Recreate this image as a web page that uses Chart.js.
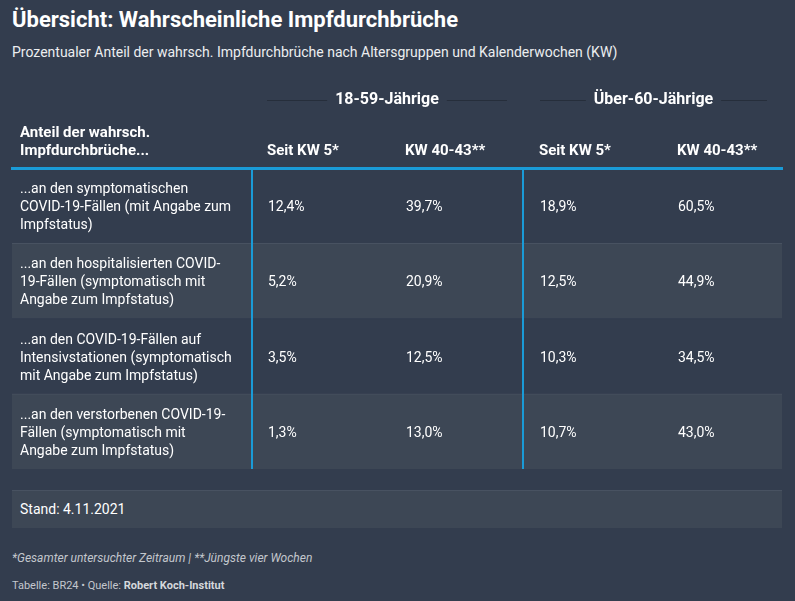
<!DOCTYPE html>
<html><head><meta charset="utf-8">
<script src="https://cdn.jsdelivr.net/npm/chart.js@4.4.0/dist/chart.umd.min.js"></script>
<style>
html,body{margin:0;padding:0;background:#333d4e;width:795px;height:601px;overflow:hidden;font-family:Roboto,sans-serif;color:#fff;}
.t{position:absolute;left:12px;white-space:nowrap;}
#title{top:7px;font-size:22px;line-height:26px;font-weight:700;}
#sub{top:43px;font-size:14px;line-height:18px;color:#eceef0;}
#wrap{position:absolute;left:0;top:75px;width:795px;height:400px;}
#stand{position:absolute;left:12px;top:490px;width:770px;height:38px;background:#3d4755;border-top:1px solid #485261;box-sizing:border-box;font-size:14px;line-height:37px;padding-left:8px;}
#note{top:550px;font-size:12px;line-height:16px;font-style:italic;color:#c3c7cd;}
#src{top:579px;font-size:11px;line-height:14px;color:#c3c7cd;}
#src b{font-weight:700;color:#d5d8dc;}
</style></head>
<body>
<div class="t" id="title">Übersicht: Wahrscheinliche Impfdurchbrüche</div>
<div class="t" id="sub">Prozentualer Anteil der wahrsch. Impfdurchbrüche nach Altersgruppen und Kalenderwochen (KW)</div>
<div id="wrap"><canvas id="c" width="795" height="400"></canvas></div>
<div id="stand"></div>
<div class="t" id="note">*Gesamter untersuchter Zeitraum | **Jüngste vier Wochen</div>
<div class="t" id="src">Tabelle: BR24 • Quelle: <b>Robert Koch-Institut</b></div>
<script>
// ---- data ----
const rowLabels = [
  ['...an den symptomatischen', 'COVID-19-Fällen (mit Angabe zum', 'Impfstatus)'],
  ['...an den hospitalisierten COVID-', '19-Fällen (symptomatisch mit', 'Angabe zum Impfstatus)'],
  ['...an den COVID-19-Fällen auf', 'Intensivstationen (symptomatisch', 'mit Angabe zum Impfstatus)'],
  ['...an den verstorbenen COVID-19-', 'Fällen (symptomatisch mit', 'Angabe zum Impfstatus)']
];
const firstColumnHeader = ['Anteil der wahrsch.', 'Impfdurchbrüche...'];
const ageGroups = ['18-59-Jährige', 'Über-60-Jährige'];
const periodLabels = ['Seit KW 5*', 'KW 40-43**', 'Seit KW 5*', 'KW 40-43**'];
const young_seitKW5 = [12.4, 5.2, 3.5, 1.3];
const young_kw4043 = [39.7, 20.9, 12.5, 13.0];
const old_seitKW5 = [18.9, 12.5, 10.3, 10.7];
const old_kw4043 = [60.5, 44.9, 34.5, 43.0];
const standDate = '4.11.2021';

// ---- layout (table width units) ----
const TABLE_W = 770;
const COL_TEXT = [8, 255, 393, 527, 665];
const DIVIDERS = [240, 511];
const GROUP_SPAN = [[255, 495], [528, 755]];
const BG = '#333d4e', ROW_ALT = '#3d4755', ROW_LINE = '#485261', BLUE = '#1a9bd7', RULE = '#262e3b';
const FONT = 'Roboto';
const GROUP_SIZE = 16, GROUP_PAD = 13;

document.getElementById('stand').textContent = 'Stand: ' + standDate;

const valueColumns = [young_seitKW5, young_kw4043, old_seitKW5, old_kw4043];
const fmt = v => v.toFixed(1).replace('.', ',') + '%';

function headerFor(v) {
  const i = COL_TEXT.indexOf(v);
  if (i === 0) return firstColumnHeader;
  if (i > 0) return periodLabels[i - 1];
  return '';
}

const cellText = {
  id: 'cellText',
  afterDatasetsDraw(chart) {
    const c = chart.ctx, xs = chart.scales.x, ys = chart.scales.y;
    c.save();
    c.font = '14px ' + FONT;
    c.fillStyle = '#ffffff';
    c.textAlign = 'left';
    c.textBaseline = 'middle';
    valueColumns.forEach((col, j) => {
      col.forEach((v, i) => {
        c.fillText(fmt(v), xs.getPixelForValue(COL_TEXT[j + 1]) + 1, ys.getPixelForValue(i) + 2);
      });
    });
    c.restore();
  }
};

const groupRules = {
  id: 'groupRules',
  afterDraw(chart) {
    const s = chart.scales.x2, c = chart.ctx;
    c.save();
    c.font = 'bold ' + GROUP_SIZE + 'px ' + FONT;
    c.strokeStyle = RULE;
    c.lineWidth = 1;
    const y = Math.round(s.bottom - GROUP_PAD - GROUP_SIZE * 1.2 / 2) + 0.5;
    GROUP_SPAN.forEach((g, i) => {
      const l = s.getPixelForValue(g[0]), r = s.getPixelForValue(g[1]);
      const cx = s.getPixelForValue((g[0] + g[1]) / 2);
      const w = c.measureText(ageGroups[i]).width;
      c.beginPath();
      c.moveTo(l, y); c.lineTo(cx - w / 2 - 8, y);
      c.moveTo(cx + w / 2 + 8, y); c.lineTo(r, y);
      c.stroke();
    });
    c.restore();
  }
};

new Chart(document.getElementById('c'), {
  type: 'bar',
  data: {
    labels: rowLabels,
    datasets: [{
      data: rowLabels.map(() => [0, TABLE_W]),
      backgroundColor: rowLabels.map((_, i) => i % 2 ? ROW_ALT : BG),
      borderColor: rowLabels.map((_, i) => i % 2 ? ROW_LINE : BG),
      borderWidth: { top: 1, left: 0, right: 0, bottom: 0 },
      borderSkipped: false,
      categoryPercentage: 1,
      barPercentage: 1
    }]
  },
  options: {
    indexAxis: 'y',
    responsive: false,
    animation: false,
    events: [],
    layout: { padding: { left: 12, right: 13, top: 8, bottom: 6 } },
    plugins: { legend: { display: false }, tooltip: { enabled: false } },
    scales: {
      x: {
        type: 'linear', position: 'top', min: 0, max: TABLE_W, weight: 0,
        afterBuildTicks: s => { s.ticks = [...COL_TEXT, ...DIVIDERS].sort((a, b) => a - b).map(v => ({ value: v })); },
        afterFit: s => { s.height = 45; s.paddingLeft = 0; s.paddingRight = 0; },
        ticks: {
          z: 1, autoSkip: false, maxRotation: 0, minRotation: 0, padding: 8, align: 'start',
          color: '#ffffff', font: { family: FONT, size: 15, weight: 'bold', lineHeight: 18 / 15 },
          callback: v => headerFor(v)
        },
        grid: { z: 1, drawTicks: false, lineWidth: 2, color: c => (c.tick && DIVIDERS.includes(c.tick.value)) ? BLUE : 'rgba(0,0,0,0)' },
        border: { z: 2, display: true, color: BLUE, width: 3 }
      },
      x2: {
        type: 'linear', axis: 'x', position: 'top', min: 0, max: TABLE_W, weight: 1,
        afterBuildTicks: s => { s.ticks = GROUP_SPAN.map(g => ({ value: (g[0] + g[1]) / 2 })); },
        afterFit: s => { s.height = 40; s.paddingLeft = 0; s.paddingRight = 0; },
        ticks: {
          z: 1, autoSkip: false, maxRotation: 0, minRotation: 0, padding: GROUP_PAD,
          color: '#ffffff', font: { family: FONT, size: GROUP_SIZE, weight: 'bold', lineHeight: 1.2 },
          callback: (v, i) => ageGroups[i]
        },
        grid: { display: false, drawTicks: false },
        border: { display: false }
      },
      y: {
        type: 'category', position: 'left',
        afterFit: s => { s.width = 0; s.paddingTop = 0; s.paddingBottom = 0; },
        grid: { display: false, drawTicks: false },
        border: { display: false },
        ticks: { z: 1, mirror: true, padding: 8, labelOffset: 2, crossAlign: 'near', color: '#ffffff', font: { family: FONT, size: 14, lineHeight: 18 / 14 } }
      }
    }
  },
  plugins: [cellText, groupRules]
});
</script>
</body></html>
